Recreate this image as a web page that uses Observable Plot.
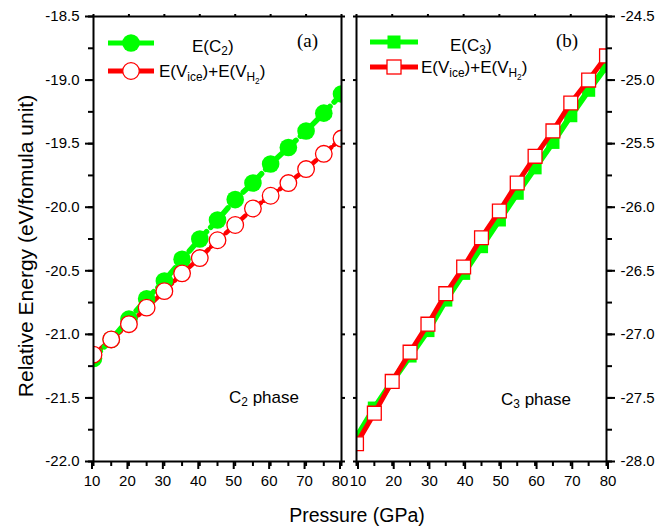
<!DOCTYPE html>
<html><head><meta charset="utf-8">
<script src="https://cdn.jsdelivr.net/npm/d3@7"></script>
<script src="https://cdn.jsdelivr.net/npm/@observablehq/plot@0.6"></script>
<style>
body{margin:0;background:#fff;font-family:"Liberation Sans",Arial,sans-serif;color:#000;}
#wrap{position:relative;width:668px;height:527px;overflow:hidden;background:#fff;}
.p{position:absolute;top:0;}
.t{position:absolute;font-size:17px;white-space:nowrap;line-height:1;transform:translateY(-50%);}
.t sub{font-size:70%;vertical-align:-0.3em;line-height:0;}
.serif{font-family:"Liberation Serif","Times New Roman",serif;font-size:19px;}
#ytitle{position:absolute;left:26px;top:246px;font-size:21px;white-space:nowrap;transform:translate(-50%,-50%) rotate(-90deg);}
#xtitle{position:absolute;left:357px;top:515px;font-size:19.5px;white-space:nowrap;transform:translate(-50%,-50%);}
#legend{position:absolute;left:0;top:0;}
</style></head>
<body>
<div id="wrap">
  <div id="left" class="p" style="left:0"></div>
  <div id="right" class="p" style="left:348px"></div>
  <svg id="legend" width="668" height="527"></svg>
  <div class="t" style="left:192px;top:46px">E(C<sub>2</sub>)</div>
  <div class="t" style="left:159px;top:72px">E(V<sub>ice</sub>)+E(V<sub>H<sub>2</sub></sub>)</div>
  <div class="t serif" style="left:297px;top:40px">(a)</div>
  <div class="t" style="left:450px;top:45px">E(C<sub>3</sub>)</div>
  <div class="t" style="left:421px;top:68px">E(V<sub>ice</sub>)+E(V<sub>H<sub>2</sub></sub>)</div>
  <div class="t serif" style="left:556px;top:40px">(b)</div>
  <div class="t" style="left:229px;top:397px">C<sub>2</sub> phase</div>
  <div class="t" style="left:501px;top:399px">C<sub>3</sub> phase</div>
  <div id="ytitle">Relative Energy (eV/fomula unit)</div>
  <div id="xtitle">Pressure (GPa)</div>
</div>
<script>
// ---- data ----
const pressure = [10,15,20,25,30,35,40,45,50,55,60,65,70,75,80];
// panel (a): C2 phase
const eC2      = [-21.19,-21.04,-20.88,-20.72,-20.58,-20.41,-20.25,-20.10,-19.94,-19.81,-19.66,-19.53,-19.40,-19.26,-19.11];
const eVsumC2  = [-21.16,-21.04,-20.92,-20.79,-20.66,-20.52,-20.40,-20.26,-20.14,-20.01,-19.91,-19.81,-19.70,-19.58,-19.46];
// panel (b): C3 phase
const eC3      = [-27.81,-27.58,-27.37,-27.17,-26.97,-26.73,-26.52,-26.31,-26.10,-25.89,-25.69,-25.49,-25.28,-25.08,-24.89];
const eVsumC3  = [-27.86,-27.62,-27.37,-27.14,-26.92,-26.68,-26.47,-26.24,-26.03,-25.81,-25.60,-25.40,-25.18,-25.00,-24.81];
// ticks
const xTicks = [10,20,30,40,50,60,70,80];
const xMinor = [10,15,20,25,30,35,40,45,50,55,60,65,70,75,80];
const yTicksA = [-22.0,-21.5,-21.0,-20.5,-20.0,-19.5,-19.0,-18.5];
const yMinorA = [-22.0,-21.75,-21.5,-21.25,-21.0,-20.75,-20.5,-20.25,-20.0,-19.75,-19.5,-19.25,-19.0,-18.75,-18.5];
const yTicksB = [-28.0,-27.5,-27.0,-26.5,-26.0,-25.5,-25.0,-24.5];
const yMinorB = [-28.0,-27.75,-27.5,-27.25,-27.0,-26.75,-26.5,-26.25,-26.0,-25.75,-25.5,-25.25,-25.0,-24.75,-24.5];

const GREEN = "#00ff00", RED = "#ff0000";
const fmt = d => d.toFixed(1);
const font = "Liberation Sans, Arial, sans-serif";
const dataA = pressure.map((p,i)=>({p, c: eC2[i], v: eVsumC2[i]}));
const dataB = pressure.map((p,i)=>({p, c: eC3[i], v: eVsumC3[i]}));

function axes(yTicks, yMinor, side, xdx) {
  const blank = () => "";
  const common = {label: null, strokeWidth: 2, fontSize: 15};
  return [
    Plot.axisX(xMinor, {...common, anchor: "bottom", tickSize: 5, tickFormat: blank}),
    Plot.axisX(xTicks, {...common, anchor: "bottom", tickSize: 8, tickPadding: 6, dx: xdx, tickFormat: d => String(d)}),
    Plot.axisX(xTicks, {...common, anchor: "top", tickSize: 3, tickFormat: blank}),
    Plot.axisY(yMinor, {...common, anchor: side, tickSize: 5, tickFormat: blank}),
    Plot.axisY(yTicks, {...common, anchor: side, tickSize: 8, tickPadding: 6, tickFormat: fmt}),
    Plot.axisY(yTicks, {...common, anchor: side === "left" ? "right" : "left", tickSize: 3, tickFormat: blank})
  ];
}

const left = Plot.plot({
  width: 350, height: 527,
  marginLeft: 93, marginRight: 9, marginTop: 16, marginBottom: 66,
  style: {fontFamily: font, fontSize: "15px", color: "black", background: "transparent", overflow: "visible"},
  x: {domain: [10, 80]},
  y: {domain: [-22, -18.5]},
  marks: [
    ...axes(yTicksA, yMinorA, "left", -1.5),
    Plot.line(dataA, {x: "p", y: "v", stroke: RED, strokeWidth: 4.5, strokeDasharray: "6,4", clip: "frame"}),
    Plot.line(dataA, {x: "p", y: "c", stroke: GREEN, strokeWidth: 5.5, strokeDasharray: "10,6", clip: "frame"}),
    Plot.dot(dataA, {x: "p", y: "c", r: 8.8, fill: GREEN, stroke: "none", clip: "frame"}),
    Plot.dot(dataA, {x: "p", y: "v", r: 8.3, fill: "white", stroke: RED, strokeWidth: 1.3, clip: "frame"}),
    Plot.frame({stroke: "black", strokeWidth: 2})
  ]
});
document.getElementById("left").appendChild(left);

const right = Plot.plot({
  width: 320, height: 527,
  marginLeft: 8, marginRight: 62, marginTop: 16, marginBottom: 66,
  style: {fontFamily: font, fontSize: "15px", color: "black", background: "transparent", overflow: "visible"},
  x: {domain: [10, 80]},
  y: {domain: [-28, -24.5]},
  marks: [
    ...axes(yTicksB, yMinorB, "right", 1.5),
    Plot.line(dataB, {x: "p", y: "c", stroke: GREEN, strokeWidth: 6, clip: "frame"}),
    Plot.dot(dataB, {x: "p", y: "c", symbol: "square", r: 7.4, fill: GREEN, stroke: "none", clip: "frame"}),
    Plot.line(dataB, {x: "p", y: "v", stroke: RED, strokeWidth: 5, clip: "frame"}),
    Plot.dot(dataB, {x: "p", y: "v", symbol: "square", r: 7.8, fill: "white", stroke: RED, strokeWidth: 1.3, clip: "frame"}),
    Plot.frame({stroke: "black", strokeWidth: 2})
  ]
});
document.getElementById("right").appendChild(right);

// ---- legend swatches ----
const lg = d3.select("#legend");
function swatch(x1, x2, y, color, shape, filled) {
  lg.append("line").attr("x1", x1).attr("x2", x2).attr("y1", y).attr("y2", y)
    .attr("stroke", color).attr("stroke-width", 5);
  const cx = (x1 + x2) / 2;
  if (shape === "circle") {
    lg.append("circle").attr("cx", cx).attr("cy", y).attr("r", filled ? 8.8 : 8.3)
      .attr("fill", filled ? color : "white").attr("stroke", filled ? "none" : color).attr("stroke-width", 1.3);
  } else {
    const s = filled ? 13 : 14;
    lg.append("rect").attr("x", cx - s/2).attr("y", y - s/2).attr("width", s).attr("height", s)
      .attr("fill", filled ? color : "white").attr("stroke", filled ? "none" : color).attr("stroke-width", 1.3);
  }
}
swatch(108, 154, 43, GREEN, "circle", true);
swatch(108, 154, 71, RED, "circle", false);
swatch(370, 418, 42, GREEN, "square", true);
swatch(370, 418, 67, RED, "square", false);
</script>
</body></html>
